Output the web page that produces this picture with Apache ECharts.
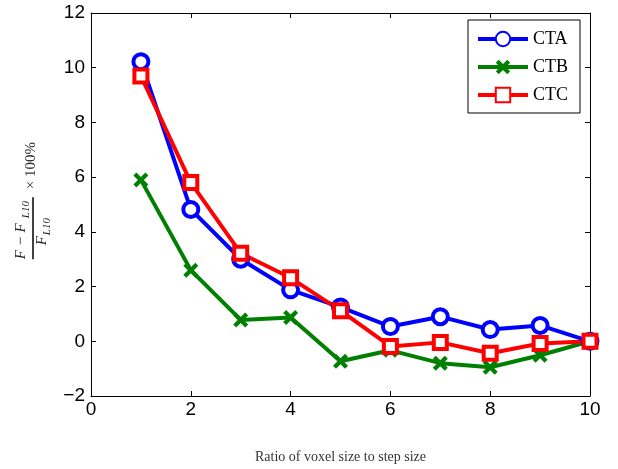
<!DOCTYPE html>
<html>
<head>
<meta charset="utf-8">
<script src="https://cdn.jsdelivr.net/npm/echarts@6/dist/echarts.min.js"></script>
<style>
  html, body { margin: 0; padding: 0; background: #fff; }
  #chart { width: 618px; height: 469px; }
</style>
</head>
<body>
<div id="chart"></div>
<script>
// 数据
const ratios = [1, 2, 3, 4, 5, 6, 7, 8, 9, 10]
const ctaValues = [10.22, 4.82, 3.0, 1.88, 1.25, 0.54, 0.9, 0.43, 0.58, 0.0]
const ctbValues = [5.9, 2.6, 0.78, 0.87, -0.73, -0.33, -0.8, -0.95, -0.51, 0.0]
const ctcValues = [9.7, 5.8, 3.22, 2.32, 1.12, -0.19, -0.04, -0.44, -0.08, 0.0]
const seriesNames = ['CTA', 'CTB', 'CTC']

const pair = (vals) => ratios.map((x, i) => [x, vals[i]])
const crossPath = 'path://M2,0L5,3L8,0L10,2L7,5L10,8L8,10L5,7L2,10L0,8L3,5L0,2Z'
const minus = (v) => String(v).replace('-', '\u2212')

const chart = echarts.init(document.getElementById('chart'))
const tickFont = { fontFamily: 'Liberation Sans', fontSize: 19, color: '#000' }
const frameAxis = {
  axisLine: { show: true, onZero: false, lineStyle: { color: '#000', width: 1 } },
  axisTick: { show: true, inside: true, length: 5, lineStyle: { color: '#000' } },
  splitLine: { show: false }
}
const serif = 'Liberation Serif'

const option = {
  animation: false,
  grid: { left: 91, right: 28, top: 13, bottom: 70 },
  legend: {
    orient: 'vertical',
    right: 38,
    top: 20,
    padding: [10, 12, 9, 8],
    itemGap: 10,
    itemWidth: 50,
    itemHeight: 18,
    backgroundColor: '#fff',
    borderColor: '#000',
    borderWidth: 1,
    lineStyle: { width: 4 },
    textStyle: { fontFamily: serif, fontSize: 18, color: '#000' },
    data: seriesNames
  },
  xAxis: [
    {
      type: 'value',
      min: 0,
      max: 10,
      interval: 2,
      name: 'Ratio of voxel size to step size',
      nameLocation: 'middle',
      nameGap: 54,
      nameTextStyle: { fontFamily: serif, fontSize: 14, color: '#333' },
      axisLabel: Object.assign({ margin: 4 }, tickFont),
      ...frameAxis
    },
    {
      type: 'value',
      position: 'top',
      min: 0,
      max: 10,
      interval: 2,
      axisLabel: { show: false },
      ...frameAxis
    }
  ],
  yAxis: [
    {
      type: 'value',
      min: -2,
      max: 12,
      interval: 2,
      axisLabel: Object.assign({ margin: 6, formatter: minus }, tickFont),
      ...frameAxis
    },
    {
      type: 'value',
      position: 'right',
      min: -2,
      max: 12,
      interval: 2,
      axisLabel: { show: false },
      ...frameAxis
    }
  ],
  graphic: [
    {
      type: 'group',
      left: 14,
      top: 142,
      rotation: Math.PI / 2,
      children: [
        { type: 'text', x: 0, y: 0, style: { text: 'F \u2212 F', fontFamily: serif, fontStyle: 'italic', fontSize: 15, fill: '#222' } },
        { type: 'text', x: 41, y: 7, style: { text: 'L10', fontFamily: serif, fontStyle: 'italic', fontSize: 11, fill: '#222' } },
        { type: 'line', shape: { x1: 0, y1: 19, x2: 62, y2: 19 }, style: { stroke: '#000', lineWidth: 1.5 } },
        { type: 'text', x: 14, y: 21, style: { text: 'F', fontFamily: serif, fontStyle: 'italic', fontSize: 15, fill: '#222' } },
        { type: 'text', x: 24, y: 28, style: { text: 'L10', fontFamily: serif, fontStyle: 'italic', fontSize: 11, fill: '#222' } },
        { type: 'text', x: 70, y: 10, style: { text: '\u00d7 100%', fontFamily: serif, fontSize: 15, fill: '#333' } }
      ]
    }
  ],
  series: [
    {
      type: 'line',
      name: 'CTA',
      data: pair(ctaValues),
      symbol: 'circle',
      symbolSize: 15,
      lineStyle: { color: '#0000ff', width: 4 },
      itemStyle: { color: '#fff', borderColor: '#0000ff', borderWidth: 4 },
      emphasis: { disabled: true }
    },
    {
      type: 'line',
      name: 'CTB',
      data: pair(ctbValues),
      symbol: crossPath,
      symbolSize: 15,
      lineStyle: { color: '#008000', width: 4 },
      itemStyle: { color: '#008000', borderWidth: 0 },
      emphasis: { disabled: true }
    },
    {
      type: 'line',
      name: 'CTC',
      data: pair(ctcValues),
      symbol: 'rect',
      symbolSize: 13,
      lineStyle: { color: '#ff0000', width: 4 },
      itemStyle: { color: '#fff', borderColor: '#ff0000', borderWidth: 4 },
      emphasis: { disabled: true }
    }
  ]
}
chart.setOption(option)
</script>
</body>
</html>
